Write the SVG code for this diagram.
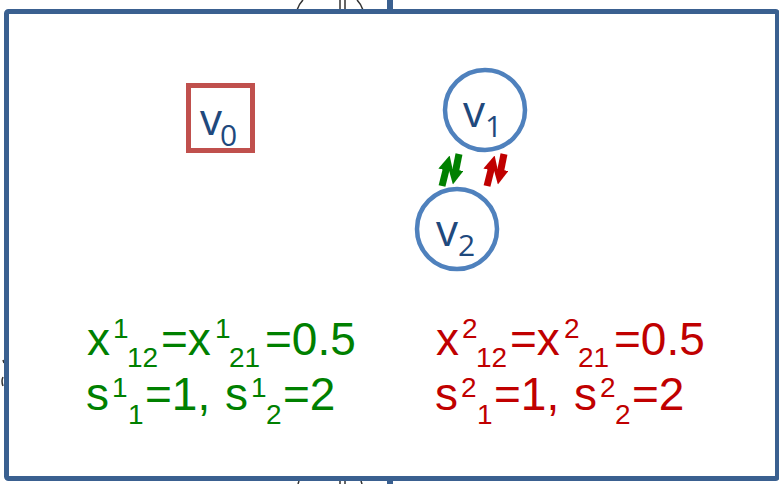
<svg xmlns="http://www.w3.org/2000/svg" width="779" height="484" viewBox="0 0 779 484">
<style>
.frame{fill:none;stroke:#3A6090;stroke-width:5}
.bar{fill:#3A6090}
.art{fill:none;stroke:#333;stroke-width:1.5}
.lbl{font-family:"Open Sans","Noto Sans","Liberation Sans",sans-serif;fill:#1F497D}
.v{font-size:44px}
.sub{font-size:30px}
.eq{font-family:"Liberation Sans",Arial,sans-serif;font-size:46px}
.small{font-size:28px}
.g{fill:#008000}
.r{fill:#C00000}
.circ{fill:#fff;stroke:#4F81BD;stroke-width:4.5}
.box{fill:#fff;stroke:#C0504D;stroke-width:5}
.fg{stroke:#008000;stroke-width:7;fill:none}
.fr{stroke:#C00000;stroke-width:7;fill:none}
</style>
<defs>
<marker id="hg" viewBox="0 0 10 10" refX="3" refY="5" markerWidth="2.2" markerHeight="2.2" orient="auto" markerUnits="strokeWidth"><path d="M0,0 L10,5 L0,10 z" fill="#008000"/></marker>
<marker id="hr" viewBox="0 0 10 10" refX="3" refY="5" markerWidth="2.2" markerHeight="2.2" orient="auto" markerUnits="strokeWidth"><path d="M0,0 L10,5 L0,10 z" fill="#C00000"/></marker>
</defs>
<rect width="779" height="484" fill="#fff"/>
<!-- background artifacts -->
<rect class="bar" x="387" y="0" width="6" height="12"/>
<rect class="bar" x="387" y="478" width="6" height="6"/>
<path class="art" d="M297,10 Q299,4 303,0 M340,0 L340,10 M345,0 L345,10 M357,0 Q361,4 363,10"/>
<path class="art" d="M298,484 L299,481 M340,481 L340,484 M345,481 L345,484 M361,481 L362,484"/>
<path class="art" d="M3,360 L4,363 M3,377 Q1,381 3,386"/>
<rect class="frame" x="6.5" y="11.5" width="771" height="467" rx="2"/>
<g id="connectors">
<g id="flow-green">
<line class="fg" x1="442" y1="186" x2="447" y2="166" marker-end="url(#hg)"/>
<line class="fg" x1="459" y1="154" x2="455" y2="174" marker-end="url(#hg)"/>
</g>
<g id="flow-red">
<line class="fr" x1="487" y1="186" x2="492" y2="166" marker-end="url(#hr)"/>
<line class="fr" x1="504" y1="154" x2="500" y2="174" marker-end="url(#hr)"/>
</g>
</g>
<g id="v0">
<rect class="box" x="188.5" y="85.5" width="64" height="65"/>
<text class="lbl" x="200" y="135"><tspan class="v">v</tspan><tspan class="sub" x="220" y="146">0</tspan></text>
</g>
<g id="v1">
<circle class="circ" cx="485" cy="110" r="40"/>
<text class="lbl" x="463" y="127"><tspan class="v">v</tspan><tspan class="sub" x="485" y="137">1</tspan></text>
</g>
<g id="v2">
<circle class="circ" cx="457" cy="229" r="40"/>
<text class="lbl" x="436" y="246"><tspan class="v">v</tspan><tspan class="sub" x="458" y="256">2</tspan></text>
</g>
<g id="labels-green">
<text class="eq g" y="355"><tspan x="87">x</tspan><tspan class="small" x="113" y="338">1</tspan><tspan class="small" x="127" y="367">12</tspan><tspan x="161" y="355">=x</tspan><tspan class="small" x="215" y="338">1</tspan><tspan class="small" x="229" y="367">21</tspan><tspan x="265" y="355">=0.5</tspan></text>
<text class="eq g" y="410"><tspan x="86">s</tspan><tspan class="small" x="112" y="397">1</tspan><tspan class="small" x="128" y="424">1</tspan><tspan x="145" y="410">=1,</tspan><tspan x="225">s</tspan><tspan class="small" x="251" y="397">1</tspan><tspan class="small" x="266" y="424">2</tspan><tspan x="283" y="410">=2</tspan></text>
</g>
<g id="labels-red">
<text class="eq r" y="355"><tspan x="436">x</tspan><tspan class="small" x="462" y="338">2</tspan><tspan class="small" x="476" y="367">12</tspan><tspan x="510" y="355">=x</tspan><tspan class="small" x="564" y="338">2</tspan><tspan class="small" x="578" y="367">21</tspan><tspan x="614" y="355">=0.5</tspan></text>
<text class="eq r" y="410"><tspan x="435">s</tspan><tspan class="small" x="461" y="397">2</tspan><tspan class="small" x="477" y="424">1</tspan><tspan x="494" y="410">=1,</tspan><tspan x="574">s</tspan><tspan class="small" x="600" y="397">2</tspan><tspan class="small" x="615" y="424">2</tspan><tspan x="632" y="410">=2</tspan></text>
</g>
</svg>
